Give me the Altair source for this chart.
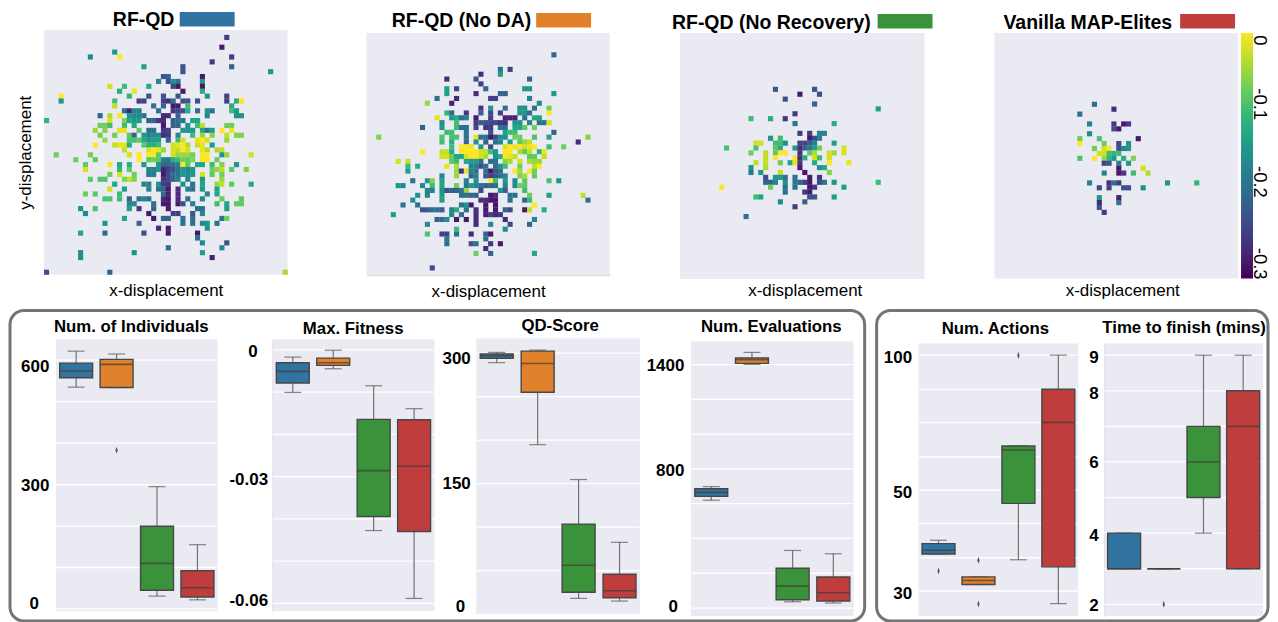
import altair as alt

METHODS = ["RF-QD", "RF-QD (No DA)", "RF-QD (No Recovery)", "Vanilla MAP-Elites"]
COLORS = ["#3274A1", "#E1812C", "#3A923A", "#C03D3E"]
FONT = "Liberation Sans"
BG = "#EAEAF2"
VIRIDIS = ["#440154", "#482878", "#3e4989", "#31688e", "#26828e", "#1f9e89", "#35b779", "#6ece58", "#b5de2b", "#fde725"]

# cells of each archive: (column, row, fitness)
HEAT_1 = [
 (37,1,-.26),(36,3,-.3),(14,4,-.15),(9,5,-.17),(15,5,0),(38,5,-.27),(34,6,-.27),(20,7,-.14),(38,7,-.22),(28,7,-.24),(28,8,-.24),(46,8,-.15),
 (24,9,-.24),(25,9,-.22),(32,9,-.3),(23,10,-.17),(25,10,-.24),(26,10,-.16),(27,10,-.2),(32,10,-.15),
 (13,11,-.02),(16,11,-.1),(21,11,-.12),(26,11,-.25),(27,11,-.3),(32,11,-.3),(15,12,-.12),(18,12,-.01),(28,12,-.3),(32,12,-.12),
 (3,13,0),(17,13,-.11),(21,13,-.24),(24,13,-.24),(27,13,-.24),(33,13,-.15),(37,13,-.26),
 (3,14,-.15),(14,14,-.1),(19,14,-.26),(20,14,-.26),(24,14,-.26),(25,14,-.28),(26,14,-.2),(28,14,-.24),(29,14,-.24),(31,14,-.24),(37,14,-.26),(39,14,-.12),(40,14,0),
 (14,15,-.03),(22,15,-.2),(24,15,-.22),(26,15,-.3),(27,15,-.3),(29,15,-.1),(38,15,-.12),
 (16,16,-.2),(17,16,-.29),(18,16,-.18),(19,16,-.18),(23,16,-.2),(26,16,-.27),(27,16,-.25),(28,16,-.25),(29,16,-.12),(31,16,-.2),(33,16,-.15),(34,16,-.2),(38,16,-.1),(39,16,-.15),
 (11,17,-.22),(13,17,-.04),(15,17,0),(17,17,-.15),(18,17,-.17),(19,17,-.17),(20,17,-.2),(24,17,-.28),(25,17,-.28),(27,17,-.22),(33,17,-.18),(39,17,-.16),(40,17,-.16),
 (0,18,-.11),(13,18,-.02),(16,18,-.06),(17,18,-.13),(18,18,-.15),(19,18,-.15),(21,18,-.22),(22,18,-.22),(23,18,-.27),(24,18,-.28),(26,18,-.22),(27,18,-.2),(28,18,-.2),(30,18,-.13),(31,18,-.13),
 (11,19,-.07),(12,19,-.07),(13,19,-.1),(16,19,-.1),(18,19,-.13),(24,19,-.3),(26,19,-.22),(27,19,-.22),(29,19,-.15),(31,19,-.1),(32,19,-.03),(37,19,-.07),(38,19,-.07),
 (10,20,-.05),(12,20,-.06),(15,20,-.01),(16,20,-.01),(19,20,-.08),(21,20,-.2),(22,20,-.2),(24,20,-.27),(25,20,-.26),(28,20,-.15),(29,20,-.15),(30,20,-.15),(32,20,-.13),(33,20,-.2),(34,20,-.15),(36,20,0),(38,20,-.01),
 (11,21,-.07),(14,21,-.07),(17,21,-.08),(18,21,-.22),(20,21,-.15),(21,21,-.18),(22,21,-.17),(23,21,-.16),(24,21,-.28),(25,21,-.27),(27,21,-.18),(30,21,-.1),(32,21,-.05),(34,21,-.06),(37,21,-.03),(39,21,-.06),(40,21,-.06),
 (12,22,-.05),(17,22,-.09),(18,22,-.09),(19,22,-.08),(20,22,-.13),(21,22,-.15),(22,22,-.14),(23,22,-.14),(25,22,-.22),(27,22,-.1),(28,22,-.02),(31,22,-.01),(32,22,0),(33,22,-.02),(37,22,-.05),
 (10,23,0),(14,23,-.03),(15,23,-.01),(16,23,-.01),(17,23,-.12),(20,23,-.08),(21,23,-.12),(22,23,-.12),(23,23,-.1),(26,23,-.02),(27,23,-.01),(28,23,0),(29,23,-.04),(31,23,-.03),(32,23,-.01),(34,23,-.15),
 (16,24,-.03),(21,24,-.02),(22,24,0),(23,24,-.01),(24,24,-.05),(26,24,-.02),(27,24,-.03),(28,24,0),(29,24,-.02),(32,24,-.01),(33,24,-.04),(35,24,-.04),(36,24,-.03),
 (2,25,-.07),(9,25,-.07),(17,25,-.02),(19,25,0),(21,25,0),(22,25,0),(23,25,-.08),(26,25,-.02),(27,25,-.05),(28,25,-.05),(29,25,-.05),(30,25,-.07),(32,25,0),(33,25,0),(36,25,-.15),(37,25,-.05),(42,25,-.02),
 (6,26,-.07),(10,26,-.08),(19,26,0),(21,26,-.08),(22,26,-.07),(23,26,-.08),(24,26,-.18),(25,26,-.2),(26,26,-.12),(27,26,-.1),(28,26,-.07),(29,26,-.08),(30,26,-.06),(32,26,0),(33,26,0),(35,26,-.07),
 (8,27,-.08),(13,27,0),(15,27,-.13),(17,27,-.12),(20,27,-.15),(23,27,-.15),(24,27,-.22),(25,27,-.22),(26,27,-.2),(27,27,-.18),(28,27,0),(29,27,-.08),(31,27,-.13),(32,27,-.13),(34,27,-.1),(36,27,-.06),(39,27,-.16),
 (8,28,-.02),(15,28,-.11),(17,28,-.08),(21,28,-.18),(22,28,-.18),(23,28,-.15),(24,28,-.29),(25,28,-.26),(26,28,-.24),(27,28,-.2),(28,28,-.15),(29,28,-.17),(30,28,-.15),(34,28,-.07),(35,28,-.05),(36,28,-.03),(38,28,-.08),(41,28,-.06),
 (13,29,-.07),(15,29,-.02),(18,29,-.07),(21,29,-.19),(22,29,-.19),(24,29,-.3),(25,29,-.25),(26,29,-.2),(27,29,-.2),(28,29,-.15),(29,29,-.16),(30,29,-.15),(32,29,-.02),(34,29,-.08),(36,29,-.07),
 (9,30,-.08),(11,30,-.09),(12,30,-.09),(16,30,-.06),(17,30,-.03),(18,30,-.06),(24,30,-.27),(25,30,-.25),(26,30,-.22),(27,30,-.18),(29,30,-.17),(32,30,-.15),(36,30,-.05),
 (14,31,-.13),(20,31,-.18),(21,31,-.18),(23,31,-.16),(24,31,-.26),(25,31,-.27),(28,31,-.16),(30,31,-.2),(32,31,-.13),(35,31,-.05),(36,31,-.03),(38,31,-.08),(42,31,-.13),
 (13,32,-.02),(16,32,-.14),(21,32,-.18),(23,32,-.2),(24,32,-.22),(25,32,-.3),(27,32,-.28),(29,32,-.18),(30,32,-.2),(32,32,-.15),(35,32,-.13),
 (8,33,-.07),(10,33,-.08),(15,33,-.1),(24,33,-.2),(25,33,-.29),(27,33,-.28),(33,33,-.17),(35,33,-.13),
 (12,34,-.09),(13,34,-.09),(15,34,-.1),(17,34,-.22),(19,34,-.2),(20,34,-.18),(21,34,-.2),(24,34,-.28),(25,34,-.3),(27,34,-.28),(29,34,-.2),(32,34,-.17),(36,34,-.07),(40,34,-.08),
 (17,35,-.17),(18,35,-.17),(22,35,-.2),(24,35,-.3),(25,35,-.3),(27,35,-.3),(28,35,-.24),(30,35,-.18),(35,35,-.1),(37,35,-.13),(39,35,-.08),(40,35,-.08),
 (7,36,-.15),(10,36,-.09),(17,36,-.14),(19,36,-.27),(22,36,-.22),(25,36,-.3),(31,36,-.2),(32,36,-.2),(37,36,-.14),
 (8,37,-.17),(21,37,-.3),(26,37,-.26),(27,37,-.26),(30,37,-.23),(32,37,-.17),
 (16,38,-.13),(22,38,-.3),(24,38,-.22),(25,38,-.22),(28,38,-.2),(30,38,-.2),(36,38,-.2),(37,38,-.07),
 (12,39,-.15),(19,39,-.22),(28,39,-.2),(30,39,-.2),(32,39,-.17),(33,39,-.15),(35,39,-.2),
 (23,40,-.28),(25,40,-.3),(33,40,-.15),(7,41,-.13),(12,41,-.2),(20,41,-.25),(25,41,-.3),(31,41,-.3),(31,42,-.2),
 (32,43,-.17),(37,43,-.24),(25,44,-.21),(36,44,-.17),(7,45,-.16),(18,45,-.16),(32,45,-.14),(7,46,-.16),(34,46,-.29),
 (0,49,-.24),(13,49,-.22),(49,49,-.04),
]
HEAT_2 = [
 (38,4,-.22),(27,7,-.2),(29,7,-.26),(23,8,-.28),(27,8,-.14),(16,9,-.28),(22,9,-.24),(33,9,-.22),(23,10,-.26),
 (16,11,-.14),(18,11,-.25),(24,11,-.22),(32,11,-.15),(33,11,-.15),(16,12,-.14),(22,12,-.28),(27,12,-.22),(28,12,-.22),(38,12,-.15),
 (14,13,-.2),(18,13,-.28),(25,13,-.26),(26,13,-.26),(33,13,-.18),(12,14,-.05),(17,14,-.29),(35,14,-.17),
 (23,15,-.27),(25,15,-.15),(28,15,-.2),(31,15,-.16),(32,15,-.16),(34,15,-.2),(37,15,-.07),
 (16,16,-.11),(17,16,-.2),(20,16,-.27),(23,16,-.22),(25,16,-.25),(27,16,-.26),(31,16,-.15),(32,16,-.15),(33,16,-.2),(37,16,0),
 (14,17,-.01),(17,17,-.15),(18,17,-.12),(19,17,-.2),(20,17,-.18),(22,17,-.3),(25,17,-.26),(28,17,-.29),(29,17,-.29),(30,17,-.29),(32,17,-.2),(34,17,-.13),(35,17,-.13),
 (15,18,-.16),(18,18,-.1),(22,18,-.27),(23,18,-.22),(24,18,-.24),(25,18,-.25),(26,18,-.25),(27,18,-.27),(28,18,-.28),(30,18,-.16),(31,18,-.16),(33,18,-.18),(35,18,-.2),(36,18,-.2),(37,18,-.02),
 (11,19,-.22),(15,19,-.15),(18,19,-.1),(19,19,-.2),(20,19,-.2),(22,19,-.25),(24,19,-.27),(25,19,-.27),(27,19,-.2),(28,19,-.2),(30,19,-.13),(31,19,-.13),(32,19,-.08),(34,19,-.07),
 (16,20,-.1),(17,20,-.1),(20,20,-.2),(25,20,-.24),(28,20,-.14),(29,20,-.1),(30,20,-.1),(38,20,-.22),
 (2,21,-.06),(15,21,-.09),(17,21,-.09),(18,21,-.09),(20,21,-.2),(22,21,-.01),(23,21,-.2),(24,21,-.2),(25,21,-.3),(26,21,-.25),(27,21,-.16),(28,21,-.16),(30,21,-.07),(31,21,-.07),(34,21,-.09),(37,21,-.13),(45,21,-.06),
 (15,22,-.1),(17,22,-.12),(20,22,-.22),(22,22,-.15),(24,22,-.22),(26,22,-.2),(27,22,-.17),(29,22,-.14),(31,22,-.08),(32,22,-.05),(33,22,-.03),(43,22,-.28),
 (17,23,-.1),(19,23,0),(20,23,0),(21,23,-.01),(23,23,-.15),(25,23,-.25),(28,23,-.02),(29,23,0),(30,23,-.01),(31,23,0),(32,23,-.02),(33,23,-.01),(34,23,0),(37,23,-.1),(40,23,-.07),
 (11,24,0),(15,24,-.03),(16,24,-.03),(17,24,-.12),(19,24,0),(20,24,0),(21,24,0),(22,24,0),(23,24,-.02),(24,24,-.03),(25,24,-.1),(26,24,-.15),(28,24,0),(29,24,0),(31,24,-.04),(32,24,-.08),(33,24,-.03),(35,24,-.12),(36,24,-.01),
 (15,25,-.02),(16,25,-.02),(17,25,-.07),(18,25,-.13),(19,25,-.13),(20,25,-.02),(21,25,0),(22,25,0),(23,25,-.02),(24,25,-.04),(26,25,-.16),(27,25,-.12),(28,25,0),(29,25,-.01),(30,25,-.03),(33,25,-.08),(34,25,-.08),(36,25,-.03),
 (6,26,-.02),(8,26,-.03),(17,26,-.08),(18,26,-.1),(20,26,-.13),(21,26,-.15),(22,26,-.14),(23,26,-.2),(25,26,-.21),(26,26,-.2),(28,26,-.06),(29,26,-.04),(31,26,-.02),(33,26,-.04),(34,26,-.05),(35,26,-.05),
 (8,27,-.1),(10,27,-.12),(16,27,-.01),(18,27,-.04),(21,27,-.18),(22,27,-.18),(23,27,-.25),(24,27,-.2),(26,27,-.2),(27,27,-.15),(28,27,-.1),(31,27,-.07),(34,27,-.03),(35,27,0),
 (8,28,-.14),(18,28,-.05),(19,28,-.28),(20,28,-.01),(21,28,-.18),(22,28,-.2),(24,28,-.2),(25,28,-.3),(26,28,-.24),(27,28,-.2),(30,28,0),(31,28,-.05),(33,28,0),(34,28,-.07),
 (15,29,-.18),(18,29,-.05),(21,29,-.22),(22,29,-.18),(24,29,-.23),(25,29,-.26),(26,29,-.24),(27,29,-.2),(28,29,-.17),(31,29,-.06),(32,29,-.04),(34,29,-.08),
 (9,30,-.2),(12,30,-.15),(13,30,-.06),(15,30,-.14),(20,30,-.18),(22,30,-.16),(25,30,0),(26,30,-.1),(28,30,-.15),(30,30,-.17),(32,30,-.08),(37,30,-.09),(39,30,-.15),
 (6,31,-.15),(7,31,-.17),(11,31,-.17),(13,31,-.1),(15,31,-.13),(18,31,-.07),(20,31,-.2),(21,31,-.15),(22,31,-.18),(23,31,-.2),(24,31,-.22),(25,31,-.22),(26,31,-.2),(28,31,-.18),(30,31,-.17),(31,31,-.07),(32,31,-.08),
 (12,32,-.18),(13,32,-.18),(15,32,-.16),(16,32,-.24),(17,32,-.22),(18,32,-.22),(19,32,-.2),(20,32,-.05),(23,32,-.25),(27,32,-.15),(28,32,-.22),(32,32,-.1),
 (10,33,-.15),(12,33,-.17),(15,33,-.14),(19,33,-.2),(20,33,-.2),(21,33,-.22),(22,33,-.22),(25,33,-.3),(26,33,-.28),(29,33,-.2),(30,33,-.2),(33,33,-.07),(37,33,-.14),(44,33,-.03),
 (9,34,-.16),(15,34,-.14),(23,34,-.28),(24,34,-.28),(25,34,-.3),(26,34,-.3),(29,34,-.2),(32,34,-.22),(33,34,-.1),(45,34,-.2),
 (7,35,-.2),(10,35,-.2),(19,35,-.2),(20,35,-.15),(21,35,-.3),(24,35,-.3),(26,35,-.3),(34,35,0),
 (11,36,-.24),(12,36,-.23),(13,36,-.2),(14,36,-.2),(15,36,-.22),(17,36,-.17),(18,36,-.12),(20,36,-.2),(22,36,-.28),(24,36,-.3),(26,36,-.3),(28,36,-.22),(29,36,-.25),(32,36,-.3),(33,36,-.03),(36,36,-.12),
 (5,37,-.14),(17,37,-.17),(19,37,-.2),(22,37,-.28),(24,37,-.29),(25,37,-.26),(26,37,-.28),(27,37,-.27),
 (14,38,-.22),(15,38,-.21),(16,38,-.17),(18,38,-.3),(20,38,-.3),(22,38,-.28),(28,38,-.28),(34,38,-.18),
 (12,39,-.17),(22,39,-.28),(25,39,-.17),(29,39,-.25),(33,39,-.22),(18,40,-.1),(28,40,-.17),
 (12,41,-.09),(15,41,-.26),(16,41,-.26),(18,41,-.2),(21,41,-.28),(24,41,-.22),(25,41,-.3),(16,42,-.2),(24,42,-.2),
 (16,43,-.2),(21,43,-.24),(22,43,-.2),(25,43,-.27),(27,43,-.3),(24,44,-.28),(22,45,-.07),(25,45,-.22),(34,45,-.13),(13,48,-.25),
]
HEAT_3 = [
 (19,11,-.23),(27,11,-.24),(24,12,-.3),(28,12,-.25),(21,13,-.24),(27,14,-.22),(40,15,-.14),(23,16,-.27),
 (14,17,-.1),(18,17,-.12),(21,17,-.27),(23,18,-.19),(31,18,-.12),(24,20,-.27),(26,20,-.27),(28,20,-.18),(29,20,-.18),
 (18,21,-.15),(20,21,-.1),(26,21,-.3),(27,21,-.25),(28,21,-.18),
 (15,22,-.02),(16,22,-.02),(19,22,-.1),(20,22,-.1),(21,22,-.16),(24,22,-.26),(25,22,-.26),(26,22,-.22),(27,22,-.18),(31,22,-.14),
 (9,23,-.09),(15,23,-.09),(19,23,-.08),(20,23,-.12),(23,23,-.15),(24,23,-.28),(25,23,-.22),(26,23,-.2),(27,23,-.14),(28,23,-.07),(33,23,-.02),
 (14,24,-.07),(17,24,-.03),(19,24,-.08),(20,24,0),(21,24,0),(24,24,-.28),(26,24,-.08),(27,24,-.04),(30,24,-.02),(31,24,-.05),(33,24,-.02),
 (17,25,-.03),(19,25,0),(23,25,0),(24,25,-.28),(25,25,-.12),(27,25,-.02),(28,25,-.1),(30,25,-.02),
 (15,26,-.03),(17,26,-.03),(20,26,-.07),(22,26,-.13),(23,26,-.01),(24,26,-.27),(27,26,-.12),(30,26,0),(34,26,-.01),
 (14,27,-.15),(17,27,-.04),(24,27,-.3),(28,27,-.16),(29,27,-.13),(14,28,-.19),(16,28,-.15),(20,28,-.03),(25,28,-.3),(30,28,-.06),
 (17,29,-.25),(19,29,-.15),(20,29,-.14),(21,29,-.21),(23,29,-.2),(26,29,-.3),(28,29,-.27),
 (17,30,-.22),(18,30,-.22),(19,30,-.18),(21,30,-.16),(23,30,-.19),(24,30,-.22),(25,30,-.26),(26,30,-.3),(28,30,-.25),(29,30,-.2),(31,30,-.15),(40,30,-.1),
 (8,31,0),(18,31,-.07),(21,31,-.2),(23,31,-.2),(26,31,-.3),(27,31,-.27),(33,31,-.14),(21,32,-.2),(25,32,-.27),(26,32,-.3),
 (15,33,-.1),(16,33,-.13),(26,33,-.24),(27,33,-.24),(31,33,-.14),(20,34,-.17),(25,34,-.22),(23,35,-.26),(13,37,-.2),
]
HEAT_4 = [
 (20,14,-.2),(24,15,-.28),(17,16,-.2),(19,18,-.18),(24,18,-.27),(26,18,-.3),(27,18,-.27),(24,19,-.25),(25,19,-.3),(19,20,-.17),
 (17,21,-.07),(21,21,-.09),(29,21,-.3),(17,22,0),(22,22,-.07),(25,22,-.25),(27,22,-.15),
 (20,23,-.07),(22,23,-.02),(23,23,0),(25,23,-.24),(26,23,-.18),(27,23,-.15),
 (21,24,-.02),(22,24,-.02),(23,24,-.1),(24,24,-.11),(25,24,-.1),(17,25,-.09),(20,25,0),(22,25,-.05),(23,25,-.11),(24,25,-.15),(26,25,-.12),(28,25,-.06),
 (22,26,-.26),(23,26,-.24),(25,26,-.18),(27,26,-.15),(25,27,-.3),(30,27,-.02),(22,28,-.18),(25,28,-.3),(26,28,-.27),(28,28,-.1),(31,28,-.04),
 (19,30,-.18),(23,30,-.28),(24,30,-.2),(25,30,-.27),(35,30,-.15),(41,30,-.11),(21,31,-.25),(23,31,-.26),(26,31,-.24),(27,31,-.24),(30,31,-.16),
 (21,33,-.15),(25,33,-.29),(21,34,-.28),(25,34,-.2),(21,35,-.24),(22,36,-.27),
]

# box statistics per method: (low whisker, q1, median, q3, high whisker)
INDIVIDUALS = [(535,557.6,574,593,621.7),(534,534,590,602,615),(31,45,110,199.5,295),(22,29,51,92,155)]
FITNESS = [(-.01008,-.00787,-.00512,-.00307,-.00173),(-.00449,-.0037,-.00307,-.00197,-.0001),(-.04276,-.03945,-.02858,-.01646,-.0085),(-.05882,-.04299,-.02756,-.01654,-.01394)]
QD_SCORE = [(289,294,297,298.9,300.8),(194.7,255,288,302.3,303.4),(18,25,56,103.4,154.6),(14.9,18.7,26.7,45.8,82.4)]
EVALS = [(620,642,665,686,698),(1401,1407,1428,1438,1470),(36,48,126,229,331),(29,40,88,178,312)]
ACTIONS = [(37.35,37.35,38.08,39.4,40.07),(31.3,31.3,32.1,32.8,32.8),(36.2,47.4,64.9,66.4,66.4),(27.5,34.8,75.1,87.4,100)]
TIME = [(3,3,3,4,4),(3,3,3,3,3),(4,5,6,7,9),(3,3,7,8,9)]

OUT_INDIVIDUALS = [(1,383)]
OUT_ACTIONS = [(0,33.97),(1,36.1),(1,27.4),(2,99.9)]
OUT_TIME = [(1,2)]

GRID_INDIVIDUALS = [0,100,200,300,400,500,600]
GRID_FITNESS = [0,-.01,-.02,-.03,-.04,-.05,-.06]
GRID_QD = [50,100,150,200,250,300]
GRID_EVALS = [0,200,400,600,800,1000,1200,1400]
GRID_ACTIONS = [100,87.3,75,62.35,50,43.4,36.6,30]
GRID_TIME = [2,3,4,5,6,7,8,9]

ONE = alt.Data(values=[{"a": 1}])


def cond(table, default):
    return {"condition": [{"test": f"datum.value == {k}", "value": v} for k, v in table.items()], "value": default}


def spacer(w):
    return alt.Chart(ONE).mark_rect(opacity=0).encode(x=alt.value(0), y=alt.value(0)).properties(width=w, height=1)


def background(w, t, h):
    return alt.Chart(ONE).mark_rect(color=BG).encode(x=alt.value(0), x2=alt.value(w), y=alt.value(t), y2=alt.value(t + h))


def header(text, x, y, size, align):
    return alt.Chart(ONE).mark_text(text=text, font=FONT, fontSize=size, fontWeight="bold", color="black", align=align, baseline="middle").encode(
        x=alt.value(x), y=alt.value(y))


def heat_panel(cells, idx, w, t, h, tx, ty, sw_x, sw_y, pad, ytitle=False, domain=False, title_shift=0):
    rows = [{"c": c, "c2": c + 1.05, "r": r, "r2": r + 1.05, "v": v} for c, r, v in cells]
    xaxis = alt.Axis(title="x-displacement", labels=False, ticks=False, grid=False, domain=domain, domainColor="#d8d8dc",
                     titleFont=FONT, titleFontSize=17, titleFontWeight="normal", titleColor="black", titlePadding=pad,
                     titleX=w / 2 + title_shift)
    yaxis = (alt.Axis(title="y-displacement", labels=False, ticks=False, grid=False, domain=False,
                      titleFont=FONT, titleFontSize=17, titleFontWeight="normal", titleColor="black", titlePadding=9)
             if ytitle else None)
    cells_layer = alt.Chart(alt.Data(values=rows)).mark_rect().encode(
        x=alt.X("c:Q", scale=alt.Scale(domain=[0, 50], nice=False, zero=False), axis=xaxis),
        x2="c2:Q",
        y=alt.Y("r:Q", scale=alt.Scale(domain=[0, 50], range=[t, t + h], nice=False, zero=False), axis=yaxis),
        y2="r2:Q",
        color=alt.Color("v:Q", scale=alt.Scale(scheme="viridis", domain=[-0.32, 0]), legend=None),
    )
    swatch = alt.Chart(ONE).mark_rect(color=COLORS[idx]).encode(
        x=alt.value(sw_x), x2=alt.value(sw_x + 55), y=alt.value(sw_y), y2=alt.value(sw_y + 14.5))
    return alt.layer(background(w, t, h), cells_layer, swatch, header(METHODS[idx], tx, ty, 19.5, "left")).properties(width=w, height=t + h)


def colorbar(w, t, h):
    bar = alt.Chart(ONE).mark_rect(color=alt.Gradient(gradient="linear", x1=0, y1=1, x2=0, y2=0,
        stops=[alt.GradientStop(color=c, offset=i / (len(VIRIDIS) - 1)) for i, c in enumerate(VIRIDIS)])).encode(
        x=alt.value(0), x2=alt.value(w), y=alt.value(t), y2=alt.value(t + h))
    ticks = alt.Chart(alt.Data(values=[{"v": v} for v in [0, -0.1, -0.2, -0.3]])).mark_rule(opacity=0).encode(
        y=alt.Y("v:Q", scale=alt.Scale(domain=[-0.32, 0], range=[t + h, t], nice=False, zero=False),
                axis=alt.Axis(orient="right", title=None, values=[0, -0.1, -0.2, -0.3], labelExpr="'' + datum.value", labelAngle=90,
                              labelAlign="center", labelBaseline="middle", ticks=False, domain=False, grid=False, labelPadding=6,
                              labelFont=FONT, labelFontSize=18.5, labelColor="black",
                              labelOffset=cond({0: 7, -0.1: -6, -0.2: -5}, 0))))
    return alt.layer(bar, ticks).properties(width=w, height=t + h)


def box_panel(stats, outliers, grid, dom, labels, offs, pad, name, w, t, h, tx, ty, pos=None, zero=None, left_line=False, frame=None):
    rows = [{"m": METHODS[i], "lo": s[0], "q1": s[1], "med": s[2], "q3": s[3], "hi": s[4]} for i, s in enumerate(stats)]
    data = alt.Data(values=rows)
    rng = [t + h * p for p in pos] if pos else [t + h, t]
    yscale = alt.Scale(domain=dom, range=rng, nice=False, zero=False)
    xscale = alt.Scale(domain=METHODS, paddingInner=0, paddingOuter=0)
    X = alt.X("m:N", scale=xscale, axis=None, sort=METHODS)
    axis = alt.Axis(title=None, values=labels, labelExpr="'' + datum.value", ticks=False, grid=False, domain=left_line,
                    domainColor="#c9c9cf", domainWidth=1.2, labelFont=FONT, labelFontSize=17, labelFontWeight="bold", labelColor="black",
                    labelOffset=cond(offs, 0), labelPadding=pad)
    Y = lambda f: alt.Y(f, scale=yscale, axis=axis)
    gridl = alt.Chart(alt.Data(values=[{"g": g} for g in grid])).mark_rule(color="white", strokeWidth=1.3).encode(y=Y("g:Q"))
    base = alt.Chart(data)
    whisk = base.mark_rule(color="#737373", strokeWidth=1.2).encode(x=X, y=Y("lo:Q"), y2="hi:Q")
    cap_lo = base.mark_tick(size=17, thickness=1.2, color="#555555").encode(x=X, y=Y("lo:Q"))
    cap_hi = base.mark_tick(size=17, thickness=1.2, color="#555555").encode(x=X, y=Y("hi:Q"))
    box = base.mark_bar(size=33, stroke="#474747", strokeWidth=1.4).encode(
        x=X, y=Y("q1:Q"), y2="q3:Q",
        color=alt.Color("m:N", scale=alt.Scale(domain=METHODS, range=COLORS), legend=None))
    med = base.mark_tick(size=33, thickness=1.6, color="#453c38").encode(x=X, y=Y("med:Q"))
    layers = [background(w, t, h), gridl, whisk, cap_lo, cap_hi, box, med]
    if outliers:
        od = alt.Data(values=[{"m": METHODS[i], "v": v} for i, v in outliers])
        layers.append(alt.Chart(od).mark_point(shape="M0,-1L0.32,0L0,1L-0.32,0Z", size=50, filled=True, color="#555555", opacity=1).encode(
            x=X, y=Y("v:Q")))
    if zero:
        layers.append(alt.Chart(alt.Data(values=[{"v": 0}])).mark_text(
            text="0", font=FONT, fontSize=17, fontWeight="bold", color="black", align="right", baseline="middle", dy=zero[1]).encode(
            x=alt.value(-zero[0]), y=Y("v:Q")))
    layers.append(header(name, tx, ty, 16.8, "center"))
    if frame:
        layers.append(alt.Chart(ONE).mark_rect(cornerRadius=14, fillOpacity=0, stroke="#757575", strokeWidth=3).encode(
            x=alt.value(frame[0]), x2=alt.value(frame[1]), y=alt.value(frame[2]), y2=alt.value(frame[3])))
    return alt.layer(*layers).properties(width=w, height=t + h)


top = alt.hconcat(
    heat_panel(HEAT_1, 0, 244, 0, 245, 69, -10, 136, -18, 8, ytitle=True),
    spacer(78.3),
    heat_panel(HEAT_2, 1, 243.7, 3, 242.5, 25.4, -9, 170, -17, 8, domain=True),
    spacer(70),
    heat_panel(HEAT_3, 2, 245, 3, 245, -8, -7, 198, -16, 5, domain=True, title_shift=2.5),
    spacer(70),
    heat_panel(HEAT_4, 3, 244, 3, 246, 9, -7, 186, -16, 4, title_shift=6),
    spacer(3),
    colorbar(12, 3, 246),
    spacing=0, bounds="flush")

bottom = alt.hconcat(
    spacer(12),
    box_panel(INDIVIDUALS, OUT_INDIVIDUALS, GRID_INDIVIDUALS, [-5, 650], [300, 600], {600: 6, 300: 1}, 7,
              "Num. of Individuals", 162, 1, 272, 75.5, -11, zero=(17, -5), frame=(-46, 810, -28, 283)),
    spacer(55),
    box_panel(FITNESS, [], GRID_FITNESS, [-0.0618, 0.00244], [-0.03, -0.06], {-0.03: 3, -0.06: -3}, 5,
              "Max. Fitness", 162, 1, 272, 80.7, -9, zero=(15, 2), left_line=True),
    spacer(42),
    box_panel(QD_SCORE, [], GRID_QD, [0, 316.8], [150, 300], {300: 5, 150: 0}, 6,
              "QD-Score", 164, 0, 276, 84, -12, zero=(11, -7)),
    spacer(51),
    box_panel(EVALS, [], GRID_EVALS, [-46, 1533], [800, 1400], {1400: 1, 800: 2}, 7,
              "Num. Evaluations", 163, 3, 275, 80.5, -11, zero=(13, -1)),
    spacer(65),
    box_panel(ACTIONS, OUT_ACTIONS, GRID_ACTIONS, [25.03, 30, 50, 100, 104.3], [30, 50, 100], {100: 2, 50: 2, 30: 3}, 7,
              "Num. Actions", 160, 5, 273, 77, -9, pos=[1, 0.9082, 0.5386, 0.0428, 0], frame=(-42, 350, -28, 283)),
    spacer(26),
    box_panel(TIME, OUT_TIME, GRID_TIME, [1.67, 9.33], [2, 4, 6, 8, 9], {9: 2, 8: 3, 6: 1, 4: 2, 2: 1}, 6,
              "Time to finish (mins)", 159, 5, 273, 80, -10, left_line=True),
    spacing=0, bounds="flush")

chart = alt.vconcat(top, bottom, spacing=9, padding={"left": 0, "top": 1.5, "right": 0, "bottom": 0}).configure_view(stroke=None)

chart.save("out.html", embed_options={"renderer": "svg", "actions": False})
